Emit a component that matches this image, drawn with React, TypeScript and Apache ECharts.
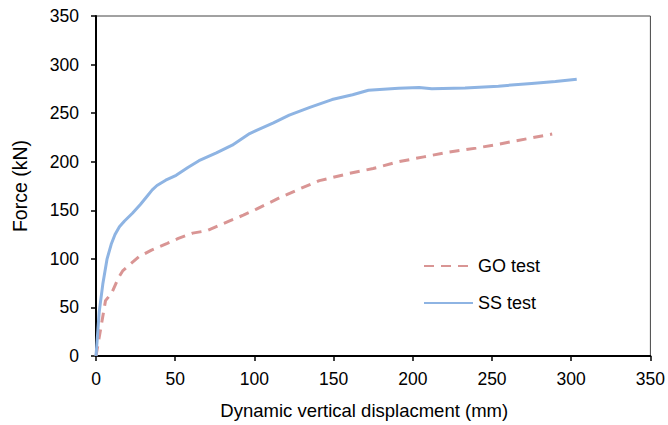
import React, { useEffect, useRef } from "react";
import * as echarts from "echarts";

const ssTest: [number, number][] = [
  [0, 0], [2, 45], [4.3, 74], [7, 100], [9.6, 115], [12, 125], [14.8, 133], [18, 139],
  [23, 147], [28, 156], [32, 164], [35.5, 171], [38.5, 175.5], [44, 181], [50.6, 186], [58, 194],
  [65, 201], [76, 209], [86, 217], [97, 229], [101, 232], [112, 240], [122, 248],
  [135, 256], [149, 264], [162, 269], [172, 273.5], [191, 275.5], [204, 276.5],
  [212, 275], [233, 275.8], [254, 277.8], [275, 280.6], [290, 282.5], [303.5, 285],
];

const goTest: [number, number][] = [
  [0, 0], [6, 57], [10, 65], [14, 80], [17, 88], [27, 102], [35, 109], [45, 116],
  [52, 121], [61, 126.5], [70, 129], [80, 136], [93, 145], [101, 151], [116, 163],
  [130, 173], [141, 180.5], [160, 188], [175, 193], [191, 200], [207, 205], [223, 210],
  [240, 214], [254, 218], [275, 224.5], [288, 228.5],
];

const seriesNames = ["GO test", "SS test"];
const xTitle = "Dynamic vertical displacment (mm)";
const yTitle = "Force (kN)";

const FONT = '"Liberation Sans", Arial, Helvetica, sans-serif';

export default function App() {
  const ref = useRef<HTMLDivElement>(null);
  useEffect(() => {
    if (!ref.current) return;
    const chart = echarts.init(ref.current, undefined, { renderer: "svg" });
    chart.setOption({
      animation: false,
      backgroundColor: "#fff",
      textStyle: { fontFamily: FONT },
      grid: {
        left: 96, right: 16, top: 16, bottom: 69,
        show: true, borderColor: "#444", borderWidth: 1, backgroundColor: "transparent",
      },
      legend: {
        orient: "vertical",
        left: 423, top: 257, padding: 0,
        itemWidth: 49, itemHeight: 14, itemGap: 19,
        itemStyle: { opacity: 0 },
        textStyle: { fontSize: 18, color: "#000", fontFamily: FONT },
        data: seriesNames,
      },
      xAxis: {
        type: "value", min: 0, max: 350, interval: 50,
        name: xTitle, nameLocation: "middle", nameGap: 45,
        nameTextStyle: { fontSize: 18.5, color: "#000", fontFamily: FONT, padding: [0, 18, 0, 0] },
        axisLine: { show: true, lineStyle: { color: "#000", width: 2 } },
        axisTick: { show: true, length: 5, lineStyle: { color: "#000", width: 1.5 } },
        axisLabel: { fontSize: 17.5, color: "#000", margin: 14, fontFamily: FONT },
        splitLine: { show: false },
      },
      yAxis: {
        type: "value", min: 0, max: 350, interval: 50,
        name: yTitle, nameLocation: "middle", nameGap: 66, nameRotate: 90,
        nameTextStyle: { fontSize: 19.5, color: "#000", fontFamily: FONT },
        axisLine: { show: true, lineStyle: { color: "#000", width: 2 } },
        axisTick: { show: true, length: 5, lineStyle: { color: "#000", width: 1.5 } },
        axisLabel: { fontSize: 17.5, color: "#000", margin: 17, fontFamily: FONT },
        splitLine: { show: false },
      },
      series: [
        {
          name: seriesNames[0], type: "line", data: goTest, symbol: "none",
          lineStyle: { color: "#D99594", width: 3, type: [10, 7] },
          itemStyle: { color: "#D99594" }, z: 2,
        },
        {
          name: seriesNames[1], type: "line", data: ssTest, symbol: "none",
          lineStyle: { color: "#8EB4E3", width: 3 },
          itemStyle: { color: "#8EB4E3" }, z: 3,
        },
      ],
    });
    return () => chart.dispose();
  }, []);
  return (
    <div
      ref={ref}
      style={{ position: "fixed", left: 0, top: 0, width: 668, height: 425 }}
    />
  );
}
